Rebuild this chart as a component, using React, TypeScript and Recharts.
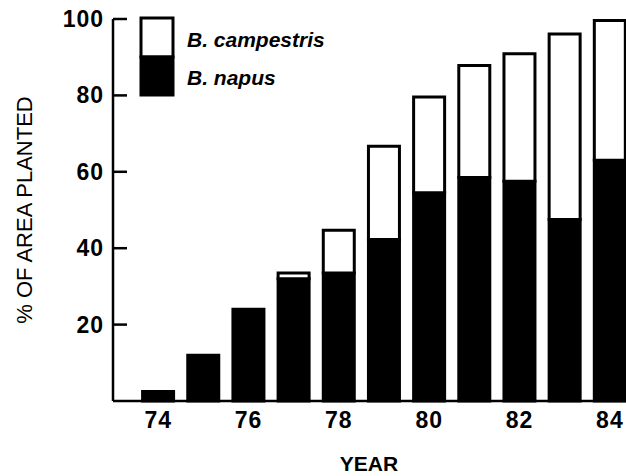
import React from 'react';
import { BarChart, Bar, XAxis, YAxis, Legend } from 'recharts';

const years = [74, 75, 76, 77, 78, 79, 80, 81, 82, 83, 84];
const napus = [2.5, 12, 24, 32, 33.5, 42.3, 54.5, 58.5, 57.5, 47.5, 63];
const campestris = [0, 0, 0, 1.5, 11.2, 24.4, 25.1, 29.3, 33.4, 48.6, 36.6];
const yTicks = [20, 40, 60, 80, 100];
const xTicks = [74, 76, 78, 80, 82, 84];

const data = years.map((year, i) => ({
  year,
  napus: napus[i],
  campestris: campestris[i],
}));

const FONT = '"Liberation Sans", Arial, Helvetica, sans-serif';

const YTick = ({ x, y, payload }: any) => (
  <g>
    <line x1={x + 10} x2={x + 24} y1={y} y2={y} stroke="#000" strokeWidth={2.5} />
    <text
      x={x + 1}
      y={y}
      dy={8}
      textAnchor="end"
      fontFamily={FONT}
      fontSize={23}
      fontWeight="bold"
      letterSpacing={1}
      fill="#000"
    >
      {payload.value}
    </text>
  </g>
);

const XTick = ({ x, y, payload }: any) => (
  <text
    x={x}
    y={y}
    dy={27}
    textAnchor="middle"
    fontFamily={FONT}
    fontSize={23}
    fontWeight="bold"
    letterSpacing={1}
    fill="#000"
  >
    {payload.value}
  </text>
);

const LegendBox = ({ payload }: any) => {
  const items = payload || [];
  const find = (key: string) => items.find((p: any) => p.dataKey === key)?.value;
  return (
    <svg width={200} height={95}>
      <rect x={11} y={8} width={32} height={39} fill="#fff" stroke="#000" strokeWidth={3} />
      <rect x={11} y={47} width={32} height={38} fill="#000" stroke="#000" strokeWidth={3} />
      <text x={57} y={36.5} fontFamily={FONT} fontSize={21} fontStyle="italic" fontWeight="bold" fill="#000">
        {find('campestris')}
      </text>
      <text x={57} y={75} fontFamily={FONT} fontSize={21} fontStyle="italic" fontWeight="bold" fill="#000">
        {find('napus')}
      </text>
    </svg>
  );
};

export default function App() {
  return (
    <div
      style={{
        position: 'absolute',
        left: 0,
        top: 0,
        width: 626,
        height: 476,
        overflow: 'hidden',
        background: '#fff',
      }}
    >
      <BarChart width={650} height={476} data={data} margin={{ top: 19, right: 13, left: 0, bottom: 0 }}>
        <XAxis
          dataKey="year"
          type="number"
          domain={[73, 84.6]}
          ticks={xTicks}
          tick={<XTick />}
          tickLine={false}
          tickSize={0}
          tickMargin={0}
          axisLine={{ stroke: '#000', strokeWidth: 2.5 }}
          height={75}
          label={{
            value: 'YEAR',
            position: 'insideBottom',
            offset: 5,
            dx: -6,
            style: { fontFamily: FONT, fontSize: 21, fontWeight: 'bold', fill: '#000' },
          }}
        />
        <YAxis
          type="number"
          domain={[0, 100]}
          ticks={yTicks}
          tick={<YTick />}
          tickLine={false}
          tickSize={0}
          tickMargin={10}
          axisLine={{ stroke: '#000', strokeWidth: 2.5 }}
          width={113}
          label={{
            value: '% OF AREA PLANTED',
            angle: -90,
            position: 'insideLeft',
            offset: 24,
            style: { textAnchor: 'middle', fontFamily: FONT, fontSize: 22, fill: '#000' },
          }}
        />
        <Legend
          layout="horizontal"
          verticalAlign="middle"
          align="center"
          content={<LegendBox />}
          wrapperStyle={{ top: 10, left: 130, width: 200, height: 95 }}
        />
        <Bar
          dataKey="napus"
          name="B. napus"
          stackId="a"
          fill="#000"
          stroke="#000"
          strokeWidth={3}
          barSize={31}
          isAnimationActive={false}
        />
        <Bar
          dataKey="campestris"
          name="B. campestris"
          stackId="a"
          fill="#fff"
          stroke="#000"
          strokeWidth={3}
          barSize={31}
          isAnimationActive={false}
        />
      </BarChart>
    </div>
  );
}
